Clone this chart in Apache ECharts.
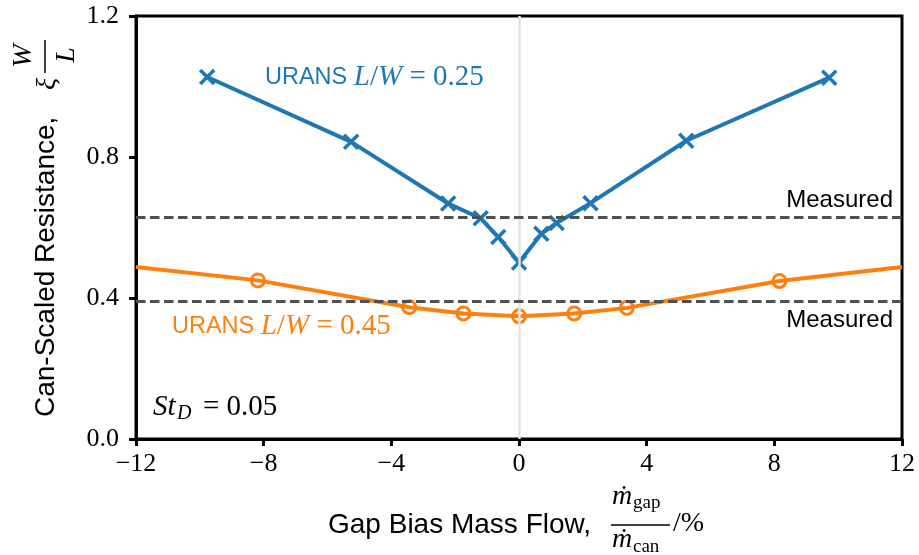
<!DOCTYPE html>
<html>
<head>
<meta charset="utf-8">
<script src="https://cdn.jsdelivr.net/npm/echarts@6/dist/echarts.min.js"></script>
<style>
  html, body { margin: 0; padding: 0; background: #fff; }
  #chart { width: 919px; height: 555px; }
</style>
</head>
<body>
<div id="chart"></div>
<script>
// Gap bias mass flow (%) and can-scaled resistance for the two URANS cases
const shortCanX = [-9.77, -5.26, -2.22, -1.2, -0.65, 0, 0.7, 1.18, 2.24, 5.24, 9.72];
const shortCanY = [1.027, 0.843, 0.668, 0.626, 0.573, 0.501, 0.582, 0.613, 0.669, 0.846, 1.025];

const longCanX = [-12, -8.18, -3.44, -1.74, 0, 1.73, 3.38, 8.16, 12];
const longCanY = [0.488, 0.45, 0.374, 0.356, 0.348, 0.356, 0.372, 0.448, 0.488];
const longCanMarked = [false, true, true, true, true, true, true, true, false];

// Measured resistance levels (short can, long can)
const measuredLevels = [0.626, 0.39];

// Axis ranges and ticks
const xRange = [-12, 12];
const xStep = 4;
const yRange = [0, 1.2];
const yStep = 0.4;

const BLUE = '#1f77b4';
const ORANGE = '#ff7f0e';
const SANS = '"Liberation Sans", Arial, sans-serif';
const SERIF = '"Liberation Serif", "DejaVu Serif", serif';

const crossPath = 'path://M0 0L10 10M10 0L0 10';

const chart = echarts.init(document.getElementById('chart'), null, { renderer: 'canvas' });

const option = {
  backgroundColor: '#fff',
  animation: false,
  grid: {
    left: 136, right: 17, top: 16, bottom: 116,
    show: true, borderColor: '#000', borderWidth: 3, backgroundColor: 'transparent'
  },
  xAxis: {
    type: 'value', min: xRange[0], max: xRange[1], interval: xStep,
    axisLine: { show: true, onZero: false, lineStyle: { color: '#000', width: 3 } },
    axisTick: { show: true, inside: false, length: 7, lineStyle: { color: '#000', width: 3 } },
    splitLine: { show: false },
    axisLabel: {
      margin: 12, color: '#000', fontFamily: SERIF, fontSize: 26,
      formatter: v => String(v).replace('-', '\u2212')
    }
  },
  yAxis: {
    type: 'value', min: yRange[0], max: yRange[1], interval: yStep,
    axisLine: { show: true, onZero: false, lineStyle: { color: '#000', width: 3 } },
    axisTick: { show: true, inside: false, length: 7, lineStyle: { color: '#000', width: 3 } },
    splitLine: { show: false },
    axisLabel: {
      margin: 17, color: '#000', fontFamily: SERIF, fontSize: 26,
      formatter: v => v.toFixed(1)
    }
  },
  series: [
    {
      // zero-bias reference line
      type: 'line', data: [], z: 1, silent: true,
      markLine: {
        silent: true, symbol: ['none', 'none'], animation: false,
        lineStyle: { color: '#e3e3e3', width: 2.5, type: 'solid' },
        label: { show: false },
        data: [{ xAxis: 0 }]
      }
    },
    {
      // measured levels
      type: 'line', data: [], z: 2, silent: true,
      markLine: {
        silent: true, symbol: ['none', 'none'], animation: false,
        lineStyle: { color: '#4f4f4f', width: 3, type: [9.5, 4.5] },
        label: {
          show: true, formatter: 'Measured', color: '#000',
          fontFamily: SANS, fontSize: 24
        },
        data: [
          { yAxis: measuredLevels[0], label: { position: 'insideEndTop', distance: [9, 5] } },
          { yAxis: measuredLevels[1], label: { position: 'insideEndBottom', distance: [9, 7] } }
        ]
      }
    },
    {
      name: 'URANS L/W = 0.45',
      type: 'line', z: 3,
      data: longCanX.map((x, i) => ({
        value: [x, longCanY[i]],
        symbol: longCanMarked[i] ? 'circle' : 'none'
      })),
      symbolSize: 13,
      lineStyle: { color: ORANGE, width: 4 },
      itemStyle: { color: 'rgba(255,255,255,0)', borderColor: ORANGE, borderWidth: 3 }
    },
    {
      name: 'URANS L/W = 0.25',
      type: 'line', z: 4,
      data: shortCanX.map((x, i) => [x, shortCanY[i]]),
      symbol: crossPath, symbolSize: 14,
      lineStyle: { color: BLUE, width: 4 },
      itemStyle: { color: BLUE, borderColor: BLUE, borderWidth: 3.5 }
    }
  ],
  graphic: [
    // series annotations
    {
      type: 'text', left: 265, top: 63, z: 10,
      style: {
        text: '{s|URANS }{m|L}{u|/}{m|W}{u| = 0.25}',
        fill: BLUE,
        rich: {
          s: { fontFamily: SANS, fontSize: 23.5, fill: BLUE },
          m: { fontFamily: SERIF, fontStyle: 'italic', fontSize: 29, fill: BLUE },
          u: { fontFamily: SERIF, fontSize: 29, fill: BLUE }
        }
      }
    },
    {
      type: 'text', left: 172, top: 312, z: 10,
      style: {
        text: '{s|URANS }{m|L}{u|/}{m|W}{u| = 0.45}',
        fill: ORANGE,
        rich: {
          s: { fontFamily: SANS, fontSize: 23.5, fill: ORANGE },
          m: { fontFamily: SERIF, fontStyle: 'italic', fontSize: 29, fill: ORANGE },
          u: { fontFamily: SERIF, fontSize: 29, fill: ORANGE }
        }
      }
    },
    // Strouhal number note
    {
      type: 'group', z: 10,
      children: [
        { type: 'text', x: 153, y: 407.5, style: { text: 'St', font: 'italic 29px ' + SERIF, fill: '#000', align: 'left', verticalAlign: 'middle' } },
        { type: 'text', x: 177, y: 413.5, style: { text: 'D', font: 'italic 20px ' + SERIF, fill: '#000', align: 'left', verticalAlign: 'middle' } },
        { type: 'text', x: 203, y: 407.5, style: { text: '= 0.05', font: '29px ' + SERIF, fill: '#000', align: 'left', verticalAlign: 'middle' } }
      ]
    },
    // y-axis title with W/L fraction
    {
      type: 'group', x: 46, y: 417, rotation: Math.PI / 2, z: 10,
      children: [
        { type: 'text', x: 0, y: 0, style: { text: 'Can-Scaled Resistance,', font: '28px ' + SANS, fill: '#000', align: 'left', verticalAlign: 'middle' } },
        { type: 'text', x: 327, y: 2, style: { text: '\u03BE', font: 'italic 28px ' + SERIF, fill: '#000', align: 'left', verticalAlign: 'middle' } },
        { type: 'line', shape: { x1: 344, y1: -1, x2: 377, y2: -1 }, style: { stroke: '#000', lineWidth: 1.5 } },
        { type: 'text', x: 361, y: -22, style: { text: 'W', font: 'italic 28px ' + SERIF, fill: '#000', align: 'center', verticalAlign: 'middle' } },
        { type: 'text', x: 362, y: 21, style: { text: 'L', font: 'italic 28px ' + SERIF, fill: '#000', align: 'center', verticalAlign: 'middle' } }
      ]
    },
    // x-axis title with mass-flow fraction
    {
      type: 'group', z: 10,
      children: [
        { type: 'text', x: 328, y: 525.5, style: { text: 'Gap Bias Mass Flow,', font: '28px ' + SANS, fill: '#000', align: 'left', verticalAlign: 'middle' } },
        { type: 'text', x: 612, y: 497, style: { text: '\u1E41', font: 'italic 28px ' + SERIF, fill: '#000', align: 'left', verticalAlign: 'middle' } },
        { type: 'text', x: 633, y: 503.5, style: { text: 'gap', font: '19px ' + SERIF, fill: '#000', align: 'left', verticalAlign: 'middle' } },
        { type: 'line', shape: { x1: 611, y1: 525, x2: 670, y2: 525 }, style: { stroke: '#000', lineWidth: 1.5 } },
        { type: 'text', x: 612, y: 540, style: { text: '\u1E41', font: 'italic 28px ' + SERIF, fill: '#000', align: 'left', verticalAlign: 'middle' } },
        { type: 'text', x: 633, y: 547, style: { text: 'can', font: '19px ' + SERIF, fill: '#000', align: 'left', verticalAlign: 'middle' } },
        { type: 'text', x: 673, y: 523.5, style: { text: '/%', font: '28px ' + SERIF, fill: '#000', align: 'left', verticalAlign: 'middle' } }
      ]
    }
  ]
};

chart.setOption(option);
</script>
</body>
</html>
